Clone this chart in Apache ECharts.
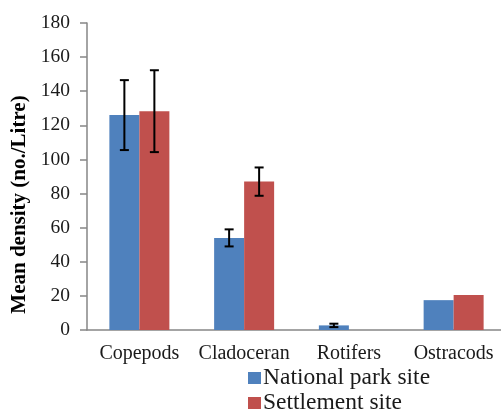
<!DOCTYPE html>
<html>
<head>
<meta charset="utf-8">
<script src="https://cdn.jsdelivr.net/npm/echarts@6/dist/echarts.min.js"></script>
<style>html,body{margin:0;padding:0;background:#fff}#c{width:501px;height:412px}</style>
</head>
<body>
<div id="c"></div>
<script>
var categories = ['Copepods', 'Cladoceran', 'Rotifers', 'Ostracods'];
var nationalPark = [126, 54, 2.7, 17.5];
var nationalParkErr = [20.5, 5, 1, 0];
var settlement = [128.3, 87, 0, 20.5];
var settlementErr = [24, 8.3, 0, 0];
var yTicks = [0, 20, 40, 60, 80, 100, 120, 140, 160, 180];

var FONT = '"Liberation Serif", "Times New Roman", serif';
var BAR_W = 30;

function errData(vals, errs) {
  return vals.map(function (v, i) { return [i, v, errs[i]]; });
}
function errRender(sign) {
  return function (params, api) {
    var e = api.value(2);
    if (!e) return;
    var i = api.value(0), v = api.value(1);
    var top = api.coord([i, v + e]);
    var bot = api.coord([i, v - e]);
    var x = top[0] + sign * BAR_W / 2;
    var cap = 4.5;
    var st = { stroke: '#000', lineWidth: 2 };
    return {
      type: 'group',
      children: [
        { type: 'line', shape: { x1: x, y1: top[1], x2: x, y2: bot[1] }, style: st },
        { type: 'line', shape: { x1: x - cap, y1: top[1], x2: x + cap, y2: top[1] }, style: st },
        { type: 'line', shape: { x1: x - cap, y1: bot[1], x2: x + cap, y2: bot[1] }, style: st }
      ]
    };
  };
}

var chart = echarts.init(document.getElementById('c'));
chart.setOption({
  animation: false,
  backgroundColor: '#fff',
  grid: { left: 87, top: 23, width: 419, bottom: 82, containLabel: false, outerBoundsMode: 'none' },
  legend: {
    orient: 'vertical',
    left: 243, top: 361, height: 100,
    itemWidth: 13, itemHeight: 12,
    itemGap: 1,
    icon: 'rect',
    textStyle: { fontFamily: FONT, fontSize: 23.5, color: '#1a1a1a', lineHeight: 23, padding: [0, 0, 0, -3] },
    data: ['National park site', 'Settlement site']
  },
  xAxis: {
    type: 'category',
    data: categories,
    axisLine: { lineStyle: { color: '#868686', width: 1.5 } },
    axisTick: { show: false },
    axisLabel: { interval: 0, fontFamily: FONT, fontSize: 20, color: '#1a1a1a', margin: 14 }
  },
  yAxis: {
    type: 'value',
    min: yTicks[0], max: yTicks[yTicks.length - 1], interval: 20,
    name: 'Mean density (no./Litre)',
    nameLocation: 'middle',
    nameGap: 50,
    nameTextStyle: { fontFamily: FONT, fontSize: 21, fontWeight: 'bold', color: '#000', padding: [0, 56, 0, 0] },
    axisLine: { show: true, lineStyle: { color: '#868686', width: 1.5 } },
    axisTick: { show: true, length: 7, lineStyle: { color: '#868686', width: 1.5 } },
    splitLine: { show: false },
    axisLabel: { fontFamily: FONT, fontSize: 19.5, color: '#1a1a1a', margin: 17 }
  },
  series: [
    { name: 'National park site', type: 'bar', data: nationalPark, barWidth: BAR_W, barGap: '0%',
      itemStyle: { color: '#4F81BD' } },
    { name: 'Settlement site', type: 'bar', data: settlement, barWidth: BAR_W, barGap: '0%',
      itemStyle: { color: '#C0504D' } },
    { type: 'custom', data: errData(nationalPark, nationalParkErr), renderItem: errRender(-1), z: 5, silent: true },
    { type: 'custom', data: errData(settlement, settlementErr), renderItem: errRender(1), z: 5, silent: true }
  ]
});
</script>
</body>
</html>
